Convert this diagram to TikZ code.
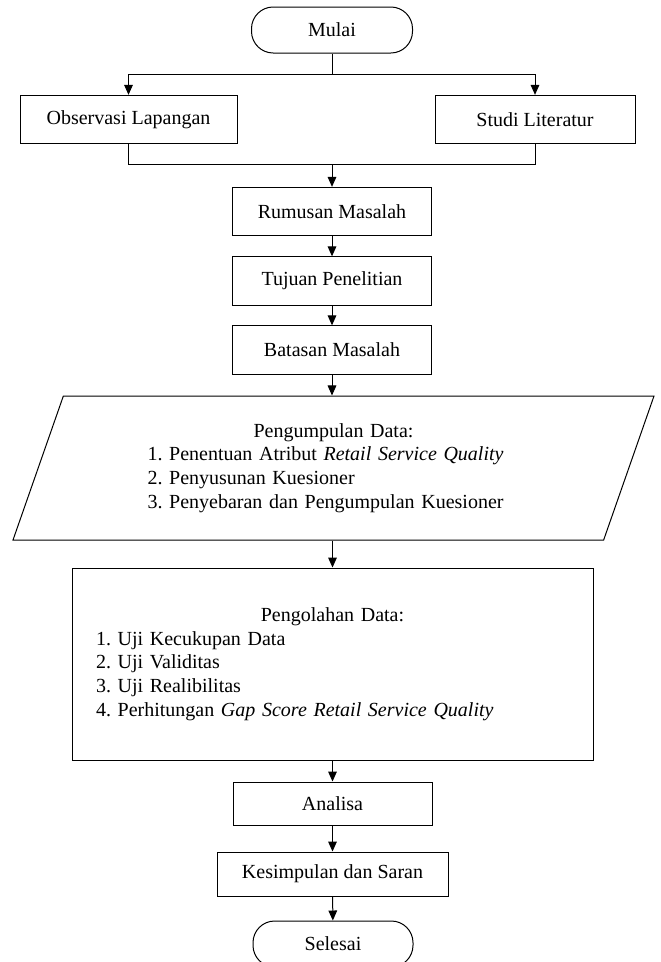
\documentclass[tikz,border=0pt]{standalone}
\usepackage{fontspec}
\setmainfont{Liberation Serif}
\usetikzlibrary{arrows.meta,shapes.geometric}

\begin{document}
\begin{tikzpicture}[x=0.6pt, y=-0.6pt, line width=0.6pt,
  >={Triangle[length=6pt,width=5.2pt]},
  every node/.style={font=\fontsize{12}{14.25}\selectfont\frenchspacing},
  proses/.style={draw, rectangle, minimum height=29pt, inner sep=0pt},
  terminal/.style={draw, rectangle, rounded corners=13pt, minimum width=96.6pt, minimum height=27.6pt},
  dataio/.style={draw, trapezium, trapezium left angle=63.4, trapezium right angle=116.6,
    trapezium stretches body, minimum width=384.6pt, minimum height=86.4pt, text width=223.2pt, align=left}]

\useasboundingbox (0,0) rectangle (661,962);

% Start and the two parallel steps
\node (mulai) at (332,30) [terminal] {Mulai};
\node (obs) at (128.5,119.5) [proses, minimum width=130.2pt] {Observasi Lapangan};
\node (studi) at (535,119.5) [proses, minimum width=120pt] {Studi Literatur};
\coordinate (cabang) at (332,74);
\coordinate (gabung) at (332,164);

% Main column
\node (rumusan) at (332,211.5) [proses, minimum width=119.4pt] {Rumusan Masalah};
\node (tujuan) at (332,281) [proses, minimum width=119.4pt] {Tujuan Penelitian};
\node (batasan) at (332,350) [proses, minimum width=119.4pt] {Batasan Masalah};
\node (kumpul) at (333.5,468) [dataio] {\mbox{}\hfill Pengumpulan Data:\hfill\mbox{}\\
  1. Penentuan Atribut \textit{Retail Service Quality}\\
  2. Penyusunan Kuesioner\\
  3. Penyebaran dan Pengumpulan Kuesioner};
\node (olah) at (332.5,664) [draw, rectangle, minimum width=312.6pt, minimum height=115.2pt,
  text width=283.8pt, inner xsep=14.4pt, align=left] {\mbox{}\hfill Pengolahan Data:\hfill\mbox{}\\
  1. Uji Kecukupan Data\\
  2. Uji Validitas\\
  3. Uji Realibilitas\\
  4. Perhitungan \textit{Gap Score Retail Service Quality}};
\node (analisa) at (332.5,803.5) [proses, minimum width=119.4pt, minimum height=25.8pt] {Analisa};
\node (saran) at (332.5,874) [proses, minimum width=138.6pt, minimum height=26.4pt] {Kesimpulan dan Saran};
\node (selesai) at (333,944) [terminal, minimum width=96pt] {Selesai};

% Split and join
\draw (mulai) -- (cabang);
\draw[->] (cabang) -| (obs);
\draw[->] (cabang) -| (studi);
\draw (obs) |- (gabung);
\draw (studi) |- (gabung);
\draw[->] (gabung) -- (rumusan);

% Down the column
\draw[->] (rumusan) -- (tujuan);
\draw[->] (tujuan) -- (batasan);
\draw[->] (batasan) -- (batasan |- kumpul.north);
\draw[->] (olah |- kumpul.south) -- (olah);
\draw[->] (olah) -- (analisa);
\draw[->] (analisa) -- (saran);
\draw[->] (saran) -- (selesai);

\end{tikzpicture}
\end{document}
